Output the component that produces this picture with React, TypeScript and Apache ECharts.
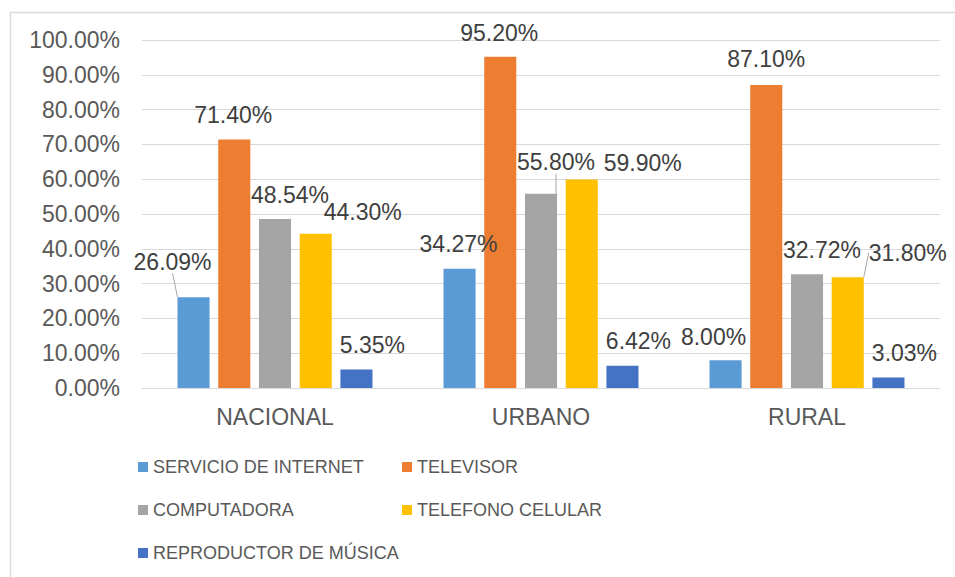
import React, { useEffect, useRef } from "react";
import * as echarts from "echarts";

const categories = ["NACIONAL", "URBANO", "RURAL"];
const seriesNames = [
  "SERVICIO DE INTERNET",
  "TELEVISOR",
  "COMPUTADORA",
  "TELEFONO CELULAR",
  "REPRODUCTOR DE MÚSICA",
];
const internet = [26.09, 34.27, 8.0];
const televisor = [71.4, 95.2, 87.1];
const computadora = [48.54, 55.8, 32.72];
const celular = [44.3, 59.9, 31.8];
const reproductor = [5.35, 6.42, 3.03];
const yTicks = [0, 10, 20, 30, 40, 50, 60, 70, 80, 90, 100];

const colors = ["#5b9bd5", "#ed7d31", "#a5a5a5", "#ffc000", "#4472c4"];

// label displacement (dx, dy) per series/category, plus whether a leader line is drawn
const labelShift: [number, number, boolean][][] = [
  [[-21, -19, true], [-1, -8, false], [-12, -7, false]],
  [[-1, -8, false], [-1, -7, false], [0, -9, false]],
  [[15, -8, false], [15, -15, true], [15, -8, false]],
  [[47, -5, false], [61, 0, false], [60, -8, true]],
  [[16, -8, false], [16, -8, false], [16, -8, false]],
];

const FONT = "'Liberation Sans', Arial, sans-serif";

export default function App() {
  const ref = useRef<HTMLDivElement>(null);
  useEffect(() => {
    if (!ref.current) return;
    const chart = echarts.init(ref.current, undefined, { renderer: "svg" });
    const allValues = [internet, televisor, computadora, celular, reproductor];
    const series = allValues.map((vals, si) => ({
      name: seriesNames[si],
      type: "bar",
      barGap: "27%",
      barCategoryGap: "26.7%",
      itemStyle: { color: colors[si] },
      label: {
        show: true,
        position: "top",
        distance: 5,
        fontFamily: FONT,
        fontSize: 23,
        color: "#404040",
        formatter: (p: any) => Number(p.value).toFixed(2) + "%",
      },
      labelLine: { show: false },
      labelLayout: (params: any) => {
        const s = labelShift[si][params.dataIndex];
        return { dx: s[0], dy: s[1] };
      },
      data: vals.map((v, ci) => ({
        value: v,
        labelLine: labelShift[si][ci][2]
          ? { show: true, lineStyle: { color: "#a6a6a6", width: 1 } }
          : { show: false },
      })),
    }));

    const legendText = {
      fontFamily: FONT,
      fontSize: 18,
      color: "#595959",
      lineHeight: 20,
    };
    chart.setOption({
      animation: false,
      backgroundColor: "#ffffff",
      grid: { left: 142, right: 15, top: 40, bottom: 189, containLabel: false },
      xAxis: {
        type: "category",
        data: categories,
        axisLine: { lineStyle: { color: "#d9d9d9", width: 1 } },
        axisTick: { show: false },
        axisLabel: {
          fontFamily: FONT,
          fontSize: 23,
          color: "#595959",
          margin: 17,
        },
      },
      yAxis: {
        type: "value",
        min: yTicks[0],
        max: yTicks[yTicks.length - 1],
        interval: 10,
        axisLine: { show: false },
        axisTick: { show: false },
        splitLine: { lineStyle: { color: "#d9d9d9", width: 1 } },
        axisLabel: {
          fontFamily: FONT,
          fontSize: 23,
          color: "#595959",
          margin: 22,
          formatter: (v: number) => v.toFixed(2) + "%",
        },
      },
      legend: [
        {
          orient: "vertical",
          left: 133,
          top: 452,
          itemWidth: 10,
          itemHeight: 10,
          itemGap: 23,
          icon: "rect",
          textStyle: legendText,
          data: [seriesNames[0], seriesNames[2], seriesNames[4]],
        },
        {
          orient: "vertical",
          left: 397,
          top: 452,
          itemWidth: 10,
          itemHeight: 10,
          itemGap: 23,
          icon: "rect",
          textStyle: legendText,
          data: [seriesNames[1], seriesNames[3]],
        },
      ],
      graphic: [
        {
          type: "rect",
          left: 8,
          top: 10,
          shape: { x: 0, y: 0, width: 960, height: 600 },
          style: { fill: "none", stroke: "#d9d9d9", lineWidth: 1.5 },
          silent: true,
        },
      ],
      series,
    });
    return () => chart.dispose();
  }, []);
  return (
    <div
      ref={ref}
      style={{ position: "absolute", left: 0, top: 0, width: 955, height: 577 }}
    />
  );
}
